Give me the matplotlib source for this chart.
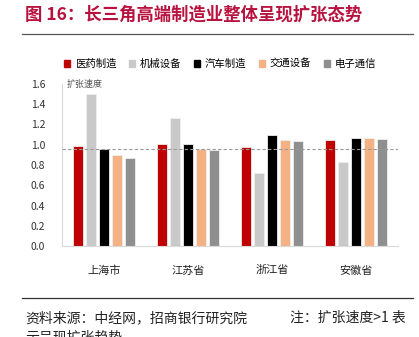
import numpy as np
import matplotlib
matplotlib.use("Agg")
import matplotlib.pyplot as plt
from matplotlib.lines import Line2D

plt.rcParams["font.family"] = ["Noto Sans CJK SC", "DejaVu Sans"]

regions = ["上海市", "江苏省", "浙江省", "安徽省"]
industries = ["医药制造", "机械设备", "汽车制造", "交通设备", "电子通信"]
colors = ["#C00000", "#C9C9C9", "#000000", "#F4B183", "#8F8F8F"]

pharma = [0.99, 1.01, 0.98, 1.05]
machinery = [1.50, 1.26, 0.72, 0.83]
auto = [0.96, 1.01, 1.10, 1.07]
transport = [0.90, 0.96, 1.05, 1.07]
electronics = [0.87, 0.95, 1.04, 1.06]
series = [pharma, machinery, auto, transport, electronics]

ref_level = 0.955
yticks = [0.0, 0.2, 0.4, 0.6, 0.8, 1.0, 1.2, 1.4, 1.6]

W, H = 419, 337
fig = plt.figure(figsize=(W / 100, H / 100), dpi=100)
ax = fig.add_axes([62 / W, 1 - 246 / H, 336 / W, 162 / H])

x = np.arange(len(regions))
step = 0.155
width = 0.125
for i, (vals, col) in enumerate(zip(series, colors)):
    ax.bar(x + (i - 2) * step, vals, width, color=col, edgecolor="#EEEEEE",
           linewidth=0.6, label=industries[i], zorder=2)

ax.axhline(ref_level, color="#999999", linestyle=(0, (3, 2)), linewidth=0.8, zorder=3)

ax.set_xlim(-0.5, len(regions) - 0.5)
ax.set_ylim(0, 1.6)
ax.set_yticks(yticks)
ax.set_yticklabels([f"{v:.1f}" for v in yticks], fontsize=7.5, color="#333333")
ax.set_xticks(x)
ax.set_xticklabels(regions, fontsize=8, color="#222222")
ax.tick_params(axis="x", length=0, pad=14)
ax.tick_params(axis="y", length=0, pad=12)
for side in ["top", "right"]:
    ax.spines[side].set_visible(False)
for side in ["left", "bottom"]:
    ax.spines[side].set_color("#D9D9D9")
    ax.spines[side].set_linewidth(0.8)

ax.text(0.015, 1.6, "扩张速度", fontsize=6.5, color="#555555", va="center",
        transform=ax.get_yaxis_transform())

# legend across the top
handles = [plt.Rectangle((0, 0), 1, 1, color=c) for c in colors]
fig.legend(handles, industries, loc="center", bbox_to_anchor=(220 / W, 1 - 64 / H),
           ncol=5, frameon=False, fontsize=7.5, handlelength=0.6, handleheight=0.6,
           handletextpad=0.4, columnspacing=1.25)

# title and rules
fig.text(25 / W, 1 - 15 / H, "图 16：长三角高端制造业整体呈现扩张态势", fontsize=12.5,
         fontweight="bold", color="#B8123E", va="center")
fig.add_artist(Line2D([22 / W, 413 / W], [1 - 34 / H] * 2, color="#555555", linewidth=0.9))
fig.add_artist(Line2D([22 / W, 413 / W], [1 - 298 / H] * 2, color="#333333", linewidth=0.9))

fig.text(25 / W, 1 - 318 / H, "资料来源：中经网，招商银行研究院", fontsize=10,
         color="#222222", va="center")
fig.text(290 / W, 1 - 318 / H, "注：扩张速度>1 表", fontsize=10,
         color="#222222", va="center")
fig.text(25 / W, 1 - 338 / H, "示呈现扩张趋势", fontsize=10,
         color="#222222", va="center")

fig.savefig("out.png", dpi=100)
